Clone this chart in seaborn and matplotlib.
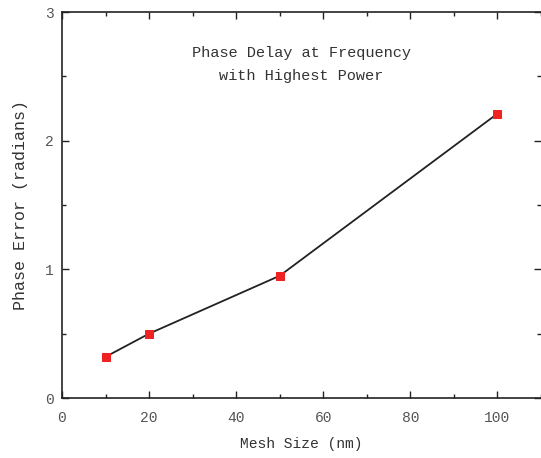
import pandas as pd
import matplotlib.pyplot as plt
import seaborn as sns
from matplotlib.ticker import MultipleLocator

# Data
mesh_size = [10, 20, 50, 100]
phase_error = [0.32, 0.50, 0.95, 2.21]

df = pd.DataFrame({"Mesh Size": mesh_size, "Phase Error": phase_error})

sns.set_style("ticks")
plt.rcParams['font.family'] = ['DejaVu Sans']

fig = plt.figure(figsize=(5.41, 4.58), dpi=100)
ax = fig.add_axes([62 / 541, 1 - 398 / 458, 1 - 62 / 541, (398 - 12) / 458])

sns.lineplot(data=df, x="Mesh Size", y="Phase Error", ax=ax, color="#222222",
             linewidth=1.3, marker="s", markersize=6, markerfacecolor="#ee2222",
             markeredgecolor="#ee2222")

ax.set_xlim(0, 110)
ax.set_ylim(0, 3)
ax.xaxis.set_major_locator(MultipleLocator(20))
ax.xaxis.set_minor_locator(MultipleLocator(10))
ax.yaxis.set_major_locator(MultipleLocator(1))
ax.yaxis.set_minor_locator(MultipleLocator(0.5))
ax.tick_params(which="both", direction="in", top=True, right=True, color="#222222", width=1.0)
ax.tick_params(which="major", length=5, labelsize=10.5, labelcolor="#555555", pad=6)
ax.tick_params(axis="x", which="major", pad=9)
ax.tick_params(which="minor", length=3)
for lab in ax.get_xticklabels() + ax.get_yticklabels():
    lab.set_family("Liberation Mono")
for s in ax.spines.values():
    s.set_color("#222222")
    s.set_linewidth(1.2)
ax.spines["right"].set_visible(False)

mono = "Liberation Mono"
ax.set_xlabel("Mesh Size (nm)", family=mono, fontsize=10.5, color="#333333", labelpad=9)
ax.set_ylabel("Phase Error (radians)", family=mono, fontsize=12, color="#333333", labelpad=12)
ax.text(0.5, 0.865, "Phase Delay at Frequency\nwith Highest Power", transform=ax.transAxes,
        ha="center", va="center", family=mono, fontsize=11, color="#333333", linespacing=1.8)

fig.savefig("out.png", dpi=100)
